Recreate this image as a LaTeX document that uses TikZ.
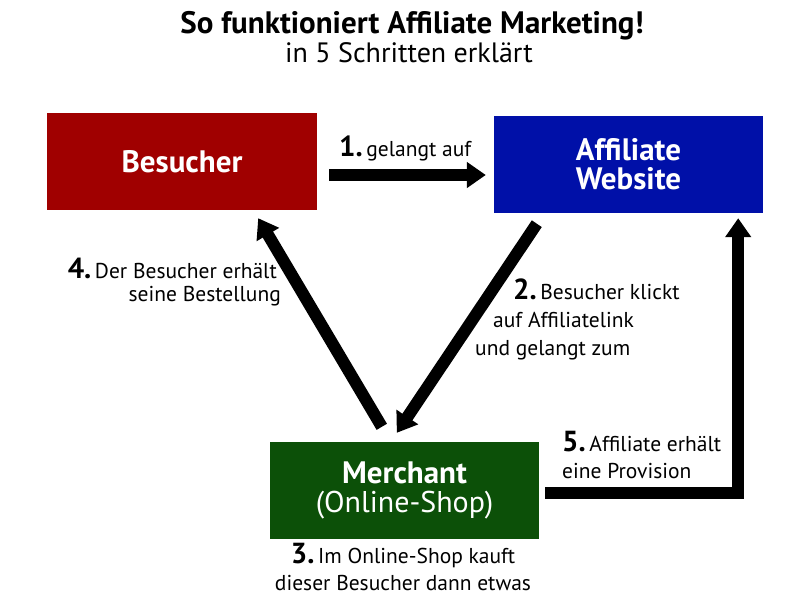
\documentclass[tikz,border=0pt]{standalone}
\usepackage{fontspec}
\setmainfont{PT Sans}
\usetikzlibrary{arrows.meta}
\definecolor{bred}{RGB}{160,0,0}
\definecolor{ablue}{RGB}{0,16,168}
\definecolor{mgreen}{RGB}{12,80,8}
\newcommand\snum[1]{{\fontsize{29}{29}\selectfont\bfseries #1}\hspace{-4pt}}
\begin{document}
\begin{tikzpicture}[x=1pt,y=-1pt,
  box/.style={draw=none, minimum width=270pt, minimum height=97pt, text=white,
    font=\fontsize{31}{29}\selectfont\bfseries, align=center, inner sep=0pt},
  bigarrow/.style={line width=12pt, line join=miter, -{Triangle[width=25pt,length=19pt]}},
  lbl/.style={font=\fontsize{21.5}{27}\selectfont, inner sep=0pt}]
\useasboundingbox[fill=white] (0,0) rectangle (800,611);
% title
\node[anchor=base, inner sep=0pt, font=\fontsize{31}{31}\selectfont\bfseries] (title) at (412,33) {So funktioniert Affiliate Marketing!};
\node[anchor=base, inner sep=0pt, font=\fontsize{28}{28}\selectfont] (subtitle) at (409,62) {in 5 Schritten erklärt};
% boxes
\node[box, fill=bred] (bes) at (182,161.5) {Besucher};
\node[box, fill=ablue, minimum width=269pt] (aff) at (628.5,164.5) {Affiliate\\Website};
\node[box, fill=mgreen, minimum width=269pt] (mer) at (404.5,490.5) {Merchant\\{\fontsize{30}{30}\selectfont\mdseries(Online-Shop)}};
% arrows
\draw[bigarrow] ([shift={(12,13.5)}]bes.east) -- ([shift={(-8,10.5)}]aff.west);
\draw[bigarrow] ([shift={(43,10.5)}]aff.south west) -- ([shift={(127,-9)}]mer.north west);
\draw[bigarrow] ([shift={(112,-15)}]mer.north west) -- ([shift={(-59,8)}]bes.south east);
\draw[bigarrow] ([shift={(6,2.5)}]mer.east) -| ([shift={(-25,5)}]aff.south east);
% labels
\node[lbl, anchor=base west] (l1) at (339,156) {\snum{1.} gelangt auf};
\node[lbl, anchor=base east] (l4a) at (277,278) {\snum{4.} Der Besucher erhält};
\node[lbl, anchor=base east] (l4b) at (281,301) {seine Bestellung};
\node[lbl, anchor=base west] (l2a) at (513,299) {\snum{2.} Besucher klickt};
\node[lbl, anchor=base west] (l2b) at (493,327) {auf Affiliatelink};
\node[lbl, anchor=base west] (l2c) at (475,355) {und gelangt zum};
\node[lbl, anchor=base west] (l5a) at (562,451) {\snum{5.} Affiliate erhält};
\node[lbl, anchor=base west] (l5b) at (562,478) {eine Provision};
\node[lbl, anchor=base] (l3a) at (403,563) {\snum{3.} Im Online-Shop kauft};
\node[lbl, anchor=base] (l3b) at (403,590) {dieser Besucher dann etwas};
\end{tikzpicture}
\end{document}
